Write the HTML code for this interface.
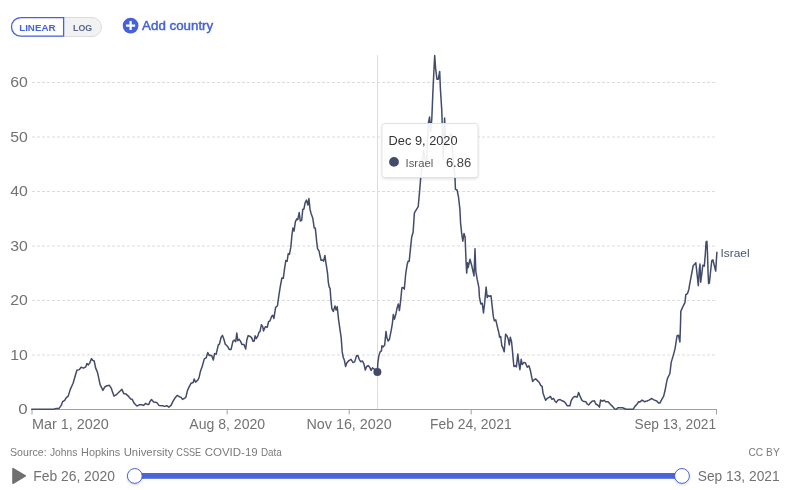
<!DOCTYPE html>
<html><head><meta charset="utf-8"><title>Chart</title>
<style>
html,body{margin:0;padding:0;background:#fff;}
body{width:792px;height:490px;overflow:hidden;position:relative;font-family:"Liberation Sans",sans-serif;}
svg{position:absolute;left:0;top:0;opacity:0.999;}
text{font-family:"Liberation Sans",sans-serif;}
.ax{font-size:14px;fill:#727272;}
.tg{font-size:9.7px;font-weight:bold;}
.add{font-size:12.6px;fill:#4662db;stroke:#4662db;stroke-width:0.45px;}
.src{font-size:11.2px;fill:#7a7a7a;}
</style></head><body>
<svg width="792" height="490" viewBox="0 0 792 490">
<defs><filter id="sh" x="-20%" y="-20%" width="140%" height="150%"><feGaussianBlur stdDeviation="1.6"/></filter></defs>
<!-- gridlines -->
<g stroke="#dcdcdc" stroke-width="1" stroke-dasharray="3,2">
<line x1="32" x2="716" y1="355.0" y2="355.0"/>
<line x1="32" x2="716" y1="300.5" y2="300.5"/>
<line x1="32" x2="716" y1="246.0" y2="246.0"/>
<line x1="32" x2="716" y1="191.5" y2="191.5"/>
<line x1="32" x2="716" y1="137.0" y2="137.0"/>
<line x1="32" x2="716" y1="82.5" y2="82.5"/>
</g>
<text x="10.3" y="359.6" textLength="17.6" lengthAdjust="spacingAndGlyphs" class="ax">10</text>
<text x="10.3" y="305.1" textLength="17.6" lengthAdjust="spacingAndGlyphs" class="ax">20</text>
<text x="10.3" y="250.6" textLength="17.6" lengthAdjust="spacingAndGlyphs" class="ax">30</text>
<text x="10.3" y="196.1" textLength="17.6" lengthAdjust="spacingAndGlyphs" class="ax">40</text>
<text x="10.3" y="141.6" textLength="17.6" lengthAdjust="spacingAndGlyphs" class="ax">50</text>
<text x="10.3" y="87.1" textLength="17.6" lengthAdjust="spacingAndGlyphs" class="ax">60</text>
<text x="18.3" y="413.5" textLength="9.4" lengthAdjust="spacingAndGlyphs" class="ax">0</text>

<line x1="377.5" x2="377.5" y1="55" y2="409.5" stroke="#dcdcdc" stroke-width="1" shape-rendering="crispEdges"/>
<path d="M31.5,409.5 H717" stroke="#a0a0a0" stroke-width="1" fill="none" shape-rendering="crispEdges"/>
<path d="M32,409.5 v5 M227.2,409.5 v5 M349.2,409.5 v5 M471.2,409.5 v5 M716.5,409.5 v5" stroke="#a0a0a0" stroke-width="1" fill="none"/>
<text x="32.0" y="428.7" textLength="76.8" lengthAdjust="spacingAndGlyphs" class="ax" >Mar 1, 2020</text>
<text x="189.3" y="428.7" textLength="75.8" lengthAdjust="spacingAndGlyphs" class="ax" >Aug 8, 2020</text>
<text x="306.4" y="428.7" textLength="85.4" lengthAdjust="spacingAndGlyphs" class="ax" >Nov 16, 2020</text>
<text x="430.0" y="428.7" textLength="81.6" lengthAdjust="spacingAndGlyphs" class="ax" >Feb 24, 2021</text>
<text x="634.5" y="428.7" textLength="81.6" lengthAdjust="spacingAndGlyphs" class="ax" >Sep 13, 2021</text>

<!-- data line -->
<path d="M31.7,409.3 L53.6,409.3 L55.7,408.6 L58.9,408.6 L61.2,405.4 L62.6,401.7 L64.7,400.3 L66.1,397.8 L68.2,396.1 L70.3,389.4 L73.1,383.2 L75.1,376.2 L76.9,370.3 L79.3,369.6 L81.1,367.2 L83.5,368.1 L85.8,366.8 L86.9,363.5 L88.3,364.9 L89.7,363.1 L91.5,358.6 L92.8,360.3 L94.2,361.0 L95.6,367.9 L97.4,372.1 L98.8,378.3 L100.1,384.6 L101.5,387.4 L102.9,390.4 L105.0,386.7 L107.1,385.7 L109.4,385.3 L111.2,388.1 L112.6,392.2 L114.0,396.1 L116.8,394.3 L119.6,391.5 L121.9,389.4 L123.8,393.6 L125.8,393.9 L128.6,396.4 L130.7,398.9 L132.1,399.2 L134.2,403.3 L136.9,406.1 L139.7,404.7 L141.8,404.7 L143.6,405.4 L145.6,403.3 L147.4,404.4 L148.8,404.4 L150.1,401.2 L151.5,399.6 L153.6,401.9 L156.7,402.4 L158.9,405.4 L162.6,405.7 L164.7,406.4 L166.8,405.7 L168.9,407.2 L171.0,405.4 L173.1,401.2 L175.1,397.8 L177.2,395.4 L179.3,396.7 L181.1,397.4 L182.5,399.4 L184.2,398.5 L185.8,397.4 L187.6,390.1 L189.4,386.4 L191.1,383.2 L193.2,382.5 L194.2,379.0 L195.6,382.1 L198.1,379.7 L199.2,376.9 L200.6,370.7 L202.2,366.5 L204.3,358.9 L206.1,357.9 L207.8,352.6 L209.2,355.4 L210.0,355.3 L211.7,355.6 L213.3,360.0 L214.6,353.6 L216.2,354.2 L218.3,344.9 L219.4,344.2 L221.1,337.2 L222.5,335.4 L223.9,339.3 L225.3,344.2 L227.4,346.2 L229.2,349.4 L231.1,349.4 L232.9,341.4 L234.3,340.0 L235.7,341.7 L236.8,333.1 L237.8,340.7 L239.2,339.3 L240.6,341.4 L241.9,344.4 L244.0,344.4 L245.7,349.0 L246.8,340.0 L248.2,335.6 L250.3,336.5 L251.7,337.9 L253.1,341.4 L254.2,341.1 L255.1,335.8 L256.2,338.6 L257.9,335.8 L258.9,332.4 L260.0,331.7 L261.4,324.7 L262.8,326.8 L263.5,331.0 L265.3,326.8 L267.2,327.2 L268.6,321.7 L270.0,320.8 L271.8,316.1 L272.8,315.3 L273.9,318.5 L275.6,307.4 L277.4,306.0 L278.8,296.2 L280.1,287.7 L281.9,278.0 L283.3,278.3 L284.6,268.3 L285.8,260.6 L287.1,261.3 L288.2,253.7 L289.4,254.4 L290.8,247.4 L291.9,235.6 L292.9,227.9 L294.0,231.1 L295.4,221.7 L296.8,218.9 L297.8,219.6 L299.2,212.6 L300.3,221.0 L301.7,220.3 L302.8,209.2 L303.9,209.2 L305.1,202.9 L306.5,200.1 L307.9,205.0 L308.9,198.5 L310.0,209.2 L311.0,213.3 L312.8,218.2 L314.2,227.9 L315.3,227.9 L316.0,234.9 L316.7,241.9 L317.6,248.8 L319.0,250.9 L320.0,255.8 L321.1,260.2 L322.5,259.9 L323.6,261.1 L324.9,255.4 L325.7,261.3 L326.7,267.6 L327.6,273.8 L328.3,282.2 L329.2,287.0 L330.1,288.4 L330.8,298.3 L331.9,308.8 L333.3,311.5 L335.0,306.0 L336.1,310.1 L337.2,306.7 L338.5,319.2 L339.9,328.9 L341.2,337.9 L342.2,351.9 L343.3,357.5 L344.4,360.3 L345.6,366.5 L346.8,363.1 L348.9,360.6 L351.0,359.3 L353.1,362.6 L354.7,361.9 L356.5,355.8 L357.9,355.4 L359.3,359.6 L360.7,361.7 L362.5,361.0 L363.9,363.8 L365.3,370.0 L366.7,366.5 L368.1,365.6 L369.7,367.2 L371.1,370.4 L372.5,367.9 L374.6,369.3 L376.7,370.7 L377.4,372.1 L377.8,363.1 L378.8,356.1 L380.1,351.9 L381.5,350.8 L381.9,345.8 L383.3,346.9 L384.7,344.9 L386.0,331.4 L386.8,337.2 L388.1,341.1 L389.4,339.3 L391.2,330.3 L392.4,323.3 L393.3,314.6 L394.4,319.2 L395.8,314.3 L397.2,307.4 L398.3,303.9 L399.4,310.6 L400.6,301.1 L401.9,287.7 L402.9,287.4 L404.3,289.1 L405.7,273.8 L407.1,264.8 L408.1,261.3 L409.2,261.3 L410.6,247.4 L411.7,237.0 L413.1,232.2 L414.4,212.9 L416.8,208.8 L418.2,206.7 L419.6,191.4 L420.7,177.9 L422.3,165.0 L423.5,150.0 L425.0,158.0 L426.5,168.0 L427.5,140.0 L428.4,123.0 L429.6,117.0 L430.6,132.0 L431.8,119.0 L432.8,94.4 L433.9,70.8 L434.7,55.6 L435.6,68.1 L436.9,79.2 L438.3,79.2 L439.7,71.5 L440.4,88.9 L441.8,110.7 L442.4,130.0 L443.2,160.0 L444.6,118.0 L445.4,135.0 L446.2,147.0 L448.0,140.0 L451.0,133.0 L452.5,150.0 L454.0,168.0 L455.0,177.9 L455.4,189.3 L457.1,190.0 L458.5,196.9 L459.9,209.4 L460.6,223.3 L461.7,233.6 L462.8,241.2 L464.0,233.6 L465.1,237.0 L466.1,262.7 L466.7,273.1 L467.5,262.7 L468.2,267.6 L470.0,259.2 L471.7,265.5 L474.0,275.9 L475.0,248.8 L475.8,271.1 L477.2,279.4 L478.9,287.7 L479.4,296.9 L480.8,303.9 L482.2,303.2 L483.5,312.9 L484.7,302.5 L486.1,287.0 L487.2,297.6 L488.2,295.6 L489.6,296.2 L491.0,295.8 L492.4,308.1 L493.3,316.4 L494.4,320.8 L495.8,319.9 L497.2,326.1 L498.6,331.7 L499.6,337.2 L500.7,336.5 L501.8,345.6 L502.8,347.6 L504.2,351.8 L504.9,342.8 L505.6,334.2 L506.9,335.8 L508.3,339.3 L509.3,344.9 L510.3,337.2 L511.5,341.4 L512.5,351.1 L512.9,356.1 L513.9,366.5 L515.7,365.8 L516.4,366.9 L517.8,354.0 L518.9,363.1 L519.9,369.7 L521.2,359.3 L522.2,364.4 L524.0,362.4 L525.4,362.8 L527.2,367.2 L528.9,365.8 L530.3,370.0 L531.4,375.6 L532.6,381.4 L534.2,379.7 L535.6,378.8 L537.2,380.4 L539.3,382.5 L540.7,385.3 L542.1,386.4 L543.1,393.6 L544.4,397.1 L545.6,400.3 L547.6,398.1 L549.0,397.5 L550.4,396.4 L551.8,399.2 L553.6,398.5 L555.0,401.2 L556.4,402.4 L558.1,399.9 L560.1,399.6 L562.2,400.8 L564.3,401.7 L565.7,403.3 L567.1,405.7 L569.9,405.7 L571.2,400.6 L573.1,397.5 L574.7,396.4 L576.1,396.7 L577.2,397.1 L578.6,392.5 L580.0,396.1 L581.7,399.9 L583.1,401.2 L585.8,401.7 L587.2,404.0 L588.6,405.0 L590.7,402.6 L592.1,401.2 L594.4,400.8 L595.8,404.0 L597.6,405.0 L599.4,407.1 L600.6,400.1 L602.2,401.2 L604.2,400.3 L605.6,401.7 L608.1,401.7 L610.1,404.0 L612.2,406.1 L614.7,408.9 L616.4,409.2 L617.8,407.8 L622.6,407.8 L626.1,409.2 L633.3,409.2 L635.1,406.1 L637.2,404.0 L638.6,401.7 L640.0,401.9 L642.1,400.1 L644.4,401.7 L646.9,401.0 L649.0,400.1 L651.8,398.5 L653.9,399.9 L656.7,401.0 L658.8,403.1 L659.9,403.1 L661.5,399.9 L663.6,396.4 L665.0,390.8 L666.4,383.2 L667.5,378.3 L669.9,373.5 L671.2,362.4 L673.3,355.4 L675.0,348.9 L677.1,335.7 L678.5,335.3 L679.9,341.9 L680.6,321.1 L680.8,311.4 L683.3,305.8 L685.0,302.4 L685.8,294.7 L687.5,293.6 L688.9,289.2 L689.3,286.3 L691.4,275.2 L693.2,265.5 L694.6,264.4 L695.8,262.7 L697.2,275.2 L698.3,285.6 L699.4,268.3 L700.0,264.1 L700.7,282.2 L701.8,273.8 L702.8,265.2 L704.3,266.2 L705.3,254.4 L706.1,241.9 L706.9,241.2 L707.5,253.0 L708.1,273.8 L708.6,283.6 L709.4,282.9 L710.6,271.1 L711.8,260.6 L712.9,259.9 L714.3,265.5 L715.7,271.1 L716.4,259.9 L716.9,252.3" fill="none" stroke="#434b6b" stroke-width="1.5" stroke-linejoin="round" stroke-linecap="round"/>
<circle cx="377.4" cy="372.1" r="4" fill="#434b6b"/>
<text x="720.5" y="256.9" textLength="29.1" lengthAdjust="spacingAndGlyphs" class="lbl" font-size="11.3" fill="#4a5373">Israel</text>

<!-- controls -->
<rect x="11.5" y="17.5" width="90" height="19" rx="9.5" fill="#f2f2f2" stroke="#dcdcdc"/>
<path d="M63.6,17.6 H20.8 a9.3,9.3 0 0 0 0,18.6 H63.6 Z" fill="#fff" stroke="#4662db" stroke-width="1.3"/>
<text x="19.2" y="30.9" textLength="36.3" lengthAdjust="spacingAndGlyphs" class="tg" fill="#4662db">LINEAR</text>
<text x="73.1" y="30.85" textLength="19.1" lengthAdjust="spacingAndGlyphs" class="tg" fill="#5b6584">LOG</text>

<circle cx="130.6" cy="25.6" r="7.85" fill="#4662db"/>
<path d="M126.1,25.6 H135.1 M130.6,21.1 V30.1" stroke="#fff" stroke-width="2.2" fill="none"/>
<text x="142.1" y="30.05" textLength="71.1" lengthAdjust="spacingAndGlyphs" class="add" >Add country</text>

<!-- tooltip -->
<rect x="382" y="124.5" width="96" height="54.5" rx="3" fill="#000" opacity="0.13" filter="url(#sh)"/>
<rect x="382" y="123.5" width="96" height="54" rx="2.5" fill="#fff" stroke="#e2e2e2"/>
<clipPath id="tc"><rect x="382.5" y="124" width="95" height="53"/></clipPath>
<path d="M31.7,409.3 L53.6,409.3 L55.7,408.6 L58.9,408.6 L61.2,405.4 L62.6,401.7 L64.7,400.3 L66.1,397.8 L68.2,396.1 L70.3,389.4 L73.1,383.2 L75.1,376.2 L76.9,370.3 L79.3,369.6 L81.1,367.2 L83.5,368.1 L85.8,366.8 L86.9,363.5 L88.3,364.9 L89.7,363.1 L91.5,358.6 L92.8,360.3 L94.2,361.0 L95.6,367.9 L97.4,372.1 L98.8,378.3 L100.1,384.6 L101.5,387.4 L102.9,390.4 L105.0,386.7 L107.1,385.7 L109.4,385.3 L111.2,388.1 L112.6,392.2 L114.0,396.1 L116.8,394.3 L119.6,391.5 L121.9,389.4 L123.8,393.6 L125.8,393.9 L128.6,396.4 L130.7,398.9 L132.1,399.2 L134.2,403.3 L136.9,406.1 L139.7,404.7 L141.8,404.7 L143.6,405.4 L145.6,403.3 L147.4,404.4 L148.8,404.4 L150.1,401.2 L151.5,399.6 L153.6,401.9 L156.7,402.4 L158.9,405.4 L162.6,405.7 L164.7,406.4 L166.8,405.7 L168.9,407.2 L171.0,405.4 L173.1,401.2 L175.1,397.8 L177.2,395.4 L179.3,396.7 L181.1,397.4 L182.5,399.4 L184.2,398.5 L185.8,397.4 L187.6,390.1 L189.4,386.4 L191.1,383.2 L193.2,382.5 L194.2,379.0 L195.6,382.1 L198.1,379.7 L199.2,376.9 L200.6,370.7 L202.2,366.5 L204.3,358.9 L206.1,357.9 L207.8,352.6 L209.2,355.4 L210.0,355.3 L211.7,355.6 L213.3,360.0 L214.6,353.6 L216.2,354.2 L218.3,344.9 L219.4,344.2 L221.1,337.2 L222.5,335.4 L223.9,339.3 L225.3,344.2 L227.4,346.2 L229.2,349.4 L231.1,349.4 L232.9,341.4 L234.3,340.0 L235.7,341.7 L236.8,333.1 L237.8,340.7 L239.2,339.3 L240.6,341.4 L241.9,344.4 L244.0,344.4 L245.7,349.0 L246.8,340.0 L248.2,335.6 L250.3,336.5 L251.7,337.9 L253.1,341.4 L254.2,341.1 L255.1,335.8 L256.2,338.6 L257.9,335.8 L258.9,332.4 L260.0,331.7 L261.4,324.7 L262.8,326.8 L263.5,331.0 L265.3,326.8 L267.2,327.2 L268.6,321.7 L270.0,320.8 L271.8,316.1 L272.8,315.3 L273.9,318.5 L275.6,307.4 L277.4,306.0 L278.8,296.2 L280.1,287.7 L281.9,278.0 L283.3,278.3 L284.6,268.3 L285.8,260.6 L287.1,261.3 L288.2,253.7 L289.4,254.4 L290.8,247.4 L291.9,235.6 L292.9,227.9 L294.0,231.1 L295.4,221.7 L296.8,218.9 L297.8,219.6 L299.2,212.6 L300.3,221.0 L301.7,220.3 L302.8,209.2 L303.9,209.2 L305.1,202.9 L306.5,200.1 L307.9,205.0 L308.9,198.5 L310.0,209.2 L311.0,213.3 L312.8,218.2 L314.2,227.9 L315.3,227.9 L316.0,234.9 L316.7,241.9 L317.6,248.8 L319.0,250.9 L320.0,255.8 L321.1,260.2 L322.5,259.9 L323.6,261.1 L324.9,255.4 L325.7,261.3 L326.7,267.6 L327.6,273.8 L328.3,282.2 L329.2,287.0 L330.1,288.4 L330.8,298.3 L331.9,308.8 L333.3,311.5 L335.0,306.0 L336.1,310.1 L337.2,306.7 L338.5,319.2 L339.9,328.9 L341.2,337.9 L342.2,351.9 L343.3,357.5 L344.4,360.3 L345.6,366.5 L346.8,363.1 L348.9,360.6 L351.0,359.3 L353.1,362.6 L354.7,361.9 L356.5,355.8 L357.9,355.4 L359.3,359.6 L360.7,361.7 L362.5,361.0 L363.9,363.8 L365.3,370.0 L366.7,366.5 L368.1,365.6 L369.7,367.2 L371.1,370.4 L372.5,367.9 L374.6,369.3 L376.7,370.7 L377.4,372.1 L377.8,363.1 L378.8,356.1 L380.1,351.9 L381.5,350.8 L381.9,345.8 L383.3,346.9 L384.7,344.9 L386.0,331.4 L386.8,337.2 L388.1,341.1 L389.4,339.3 L391.2,330.3 L392.4,323.3 L393.3,314.6 L394.4,319.2 L395.8,314.3 L397.2,307.4 L398.3,303.9 L399.4,310.6 L400.6,301.1 L401.9,287.7 L402.9,287.4 L404.3,289.1 L405.7,273.8 L407.1,264.8 L408.1,261.3 L409.2,261.3 L410.6,247.4 L411.7,237.0 L413.1,232.2 L414.4,212.9 L416.8,208.8 L418.2,206.7 L419.6,191.4 L420.7,177.9 L422.3,165.0 L423.5,150.0 L425.0,158.0 L426.5,168.0 L427.5,140.0 L428.4,123.0 L429.6,117.0 L430.6,132.0 L431.8,119.0 L432.8,94.4 L433.9,70.8 L434.7,55.6 L435.6,68.1 L436.9,79.2 L438.3,79.2 L439.7,71.5 L440.4,88.9 L441.8,110.7 L442.4,130.0 L443.2,160.0 L444.6,118.0 L445.4,135.0 L446.2,147.0 L448.0,140.0 L451.0,133.0 L452.5,150.0 L454.0,168.0 L455.0,177.9 L455.4,189.3 L457.1,190.0 L458.5,196.9 L459.9,209.4 L460.6,223.3 L461.7,233.6 L462.8,241.2 L464.0,233.6 L465.1,237.0 L466.1,262.7 L466.7,273.1 L467.5,262.7 L468.2,267.6 L470.0,259.2 L471.7,265.5 L474.0,275.9 L475.0,248.8 L475.8,271.1 L477.2,279.4 L478.9,287.7 L479.4,296.9 L480.8,303.9 L482.2,303.2 L483.5,312.9 L484.7,302.5 L486.1,287.0 L487.2,297.6 L488.2,295.6 L489.6,296.2 L491.0,295.8 L492.4,308.1 L493.3,316.4 L494.4,320.8 L495.8,319.9 L497.2,326.1 L498.6,331.7 L499.6,337.2 L500.7,336.5 L501.8,345.6 L502.8,347.6 L504.2,351.8 L504.9,342.8 L505.6,334.2 L506.9,335.8 L508.3,339.3 L509.3,344.9 L510.3,337.2 L511.5,341.4 L512.5,351.1 L512.9,356.1 L513.9,366.5 L515.7,365.8 L516.4,366.9 L517.8,354.0 L518.9,363.1 L519.9,369.7 L521.2,359.3 L522.2,364.4 L524.0,362.4 L525.4,362.8 L527.2,367.2 L528.9,365.8 L530.3,370.0 L531.4,375.6 L532.6,381.4 L534.2,379.7 L535.6,378.8 L537.2,380.4 L539.3,382.5 L540.7,385.3 L542.1,386.4 L543.1,393.6 L544.4,397.1 L545.6,400.3 L547.6,398.1 L549.0,397.5 L550.4,396.4 L551.8,399.2 L553.6,398.5 L555.0,401.2 L556.4,402.4 L558.1,399.9 L560.1,399.6 L562.2,400.8 L564.3,401.7 L565.7,403.3 L567.1,405.7 L569.9,405.7 L571.2,400.6 L573.1,397.5 L574.7,396.4 L576.1,396.7 L577.2,397.1 L578.6,392.5 L580.0,396.1 L581.7,399.9 L583.1,401.2 L585.8,401.7 L587.2,404.0 L588.6,405.0 L590.7,402.6 L592.1,401.2 L594.4,400.8 L595.8,404.0 L597.6,405.0 L599.4,407.1 L600.6,400.1 L602.2,401.2 L604.2,400.3 L605.6,401.7 L608.1,401.7 L610.1,404.0 L612.2,406.1 L614.7,408.9 L616.4,409.2 L617.8,407.8 L622.6,407.8 L626.1,409.2 L633.3,409.2 L635.1,406.1 L637.2,404.0 L638.6,401.7 L640.0,401.9 L642.1,400.1 L644.4,401.7 L646.9,401.0 L649.0,400.1 L651.8,398.5 L653.9,399.9 L656.7,401.0 L658.8,403.1 L659.9,403.1 L661.5,399.9 L663.6,396.4 L665.0,390.8 L666.4,383.2 L667.5,378.3 L669.9,373.5 L671.2,362.4 L673.3,355.4 L675.0,348.9 L677.1,335.7 L678.5,335.3 L679.9,341.9 L680.6,321.1 L680.8,311.4 L683.3,305.8 L685.0,302.4 L685.8,294.7 L687.5,293.6 L688.9,289.2 L689.3,286.3 L691.4,275.2 L693.2,265.5 L694.6,264.4 L695.8,262.7 L697.2,275.2 L698.3,285.6 L699.4,268.3 L700.0,264.1 L700.7,282.2 L701.8,273.8 L702.8,265.2 L704.3,266.2 L705.3,254.4 L706.1,241.9 L706.9,241.2 L707.5,253.0 L708.1,273.8 L708.6,283.6 L709.4,282.9 L710.6,271.1 L711.8,260.6 L712.9,259.9 L714.3,265.5 L715.7,271.1 L716.4,259.9 L716.9,252.3" fill="none" stroke="#434b6b" stroke-width="1.5" opacity="0.09" clip-path="url(#tc)"/>
<text x="388.6" y="144.7" textLength="69.0" lengthAdjust="spacingAndGlyphs" class="tt" font-size="12.7" fill="#333">Dec 9, 2020</text>

<circle cx="394" cy="161.9" r="4.9" fill="#434b6b"/>
<text x="405.6" y="166.7" textLength="27.6" lengthAdjust="spacingAndGlyphs" class="tt" font-size="11.8" fill="#5a5a5a">Israel</text>
<text x="445.9" y="166.8" textLength="25.3" lengthAdjust="spacingAndGlyphs" class="tt" font-size="13.4" fill="#444">6.86</text>

<!-- footer -->
<text x="10.0" y="456" textLength="36.6" lengthAdjust="spacingAndGlyphs" class="src" >Source:</text>
<text x="49.9" y="456" textLength="27.4" lengthAdjust="spacingAndGlyphs" class="src" >Johns</text>
<text x="81.1" y="456" textLength="39.1" lengthAdjust="spacingAndGlyphs" class="src" >Hopkins</text>
<text x="123.7" y="456" textLength="49.7" lengthAdjust="spacingAndGlyphs" class="src" >University</text>
<text x="176.25" y="456" textLength="25.0" lengthAdjust="spacingAndGlyphs" class="src" >CSSE</text>
<text x="204.7" y="456" textLength="53.0" lengthAdjust="spacingAndGlyphs" class="src" >COVID-19</text>
<text x="260.9" y="456" textLength="20.8" lengthAdjust="spacingAndGlyphs" class="src" >Data</text>

<text x="748.5" y="455.9" textLength="31.2" lengthAdjust="spacingAndGlyphs" class="src" >CC BY</text>

<!-- timeline -->
<path d="M13,468.6 L25.3,475.9 L13,483.2 Z" fill="#707070" stroke="#707070" stroke-width="1.6" stroke-linejoin="round"/>
<text x="33.2" y="480.5" textLength="81.8" lengthAdjust="spacingAndGlyphs" class="ax" >Feb 26, 2020</text>
<text x="697.8" y="480.5" textLength="81.8" lengthAdjust="spacingAndGlyphs" class="ax" >Sep 13, 2021</text>

<rect x="135" y="473" width="547" height="5.8" fill="#4b64da"/>
<circle cx="134.8" cy="477.2" r="7.6" fill="#000" opacity="0.18" filter="url(#sh)"/>
<circle cx="682.0" cy="477.2" r="7.6" fill="#000" opacity="0.18" filter="url(#sh)"/>
<circle cx="134.8" cy="475.95" r="7.4" fill="#fff" stroke="#4b64da" stroke-width="1"/>
<circle cx="682.0" cy="475.95" r="7.4" fill="#fff" stroke="#4b64da" stroke-width="1"/>
</svg>
</body></html>
